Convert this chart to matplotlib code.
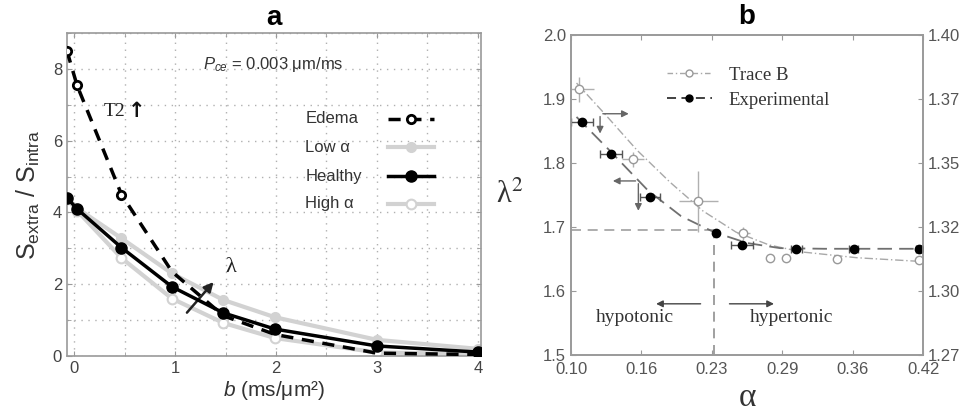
#!/usr/bin/env python3
"""
    Two panels: signal ratio vs b-value (a) and lambda^2 vs alpha (b)
"""

import numpy as np
import matplotlib
matplotlib.use('Agg')
from matplotlib import pyplot as plt
from matplotlib.ticker import MultipleLocator

plt.rcParams['font.family'] = ['Liberation Sans', 'DejaVu Sans']
plt.rcParams['mathtext.fontset'] = 'custom'
plt.rcParams['mathtext.rm'] = 'Liberation Sans'
plt.rcParams['mathtext.it'] = 'Liberation Sans:italic'

# ---- panel a data
b_vals   = [-0.07, 0.03, 0.47, 0.97, 1.48, 1.99, 3.0, 4.0]
edema    = [8.5, 7.54, 4.5, 2.35, 1.12, 0.6, 0.08, 0.04]
low_a    = [4.42, 4.12, 3.28, 2.3, 1.56, 1.08, 0.45, 0.2]
healthy  = [4.41, 4.1, 3.02, 1.93, 1.2, 0.75, 0.28, 0.11]
high_a   = [4.38, 4.05, 2.73, 1.6, 0.92, 0.5, 0.1, 0.05]

# ---- panel b data
trace_x    = [0.1076, 0.1567, 0.2157, 0.2567, 0.281, 0.2955, 0.3415, 0.4167]
trace_y    = [1.915, 1.806, 1.740, 1.690, 1.652, 1.652, 1.650, 1.649]
trace_xerr = [0.013, 0.010, 0.018, 0.006, 0.0, 0.0, 0.0, 0.0]
trace_yerr = [0.019, 0.012, 0.048, 0.010, 0.0, 0.0, 0.0, 0.0]
trace_fit_x = [0.105, 0.13, 0.16, 0.19, 0.22, 0.25, 0.28, 0.31, 0.36, 0.42]
trace_fit_y = [1.925, 1.878, 1.82, 1.77, 1.725, 1.692, 1.672, 1.661, 1.652, 1.646]

exp_x    = [0.1097, 0.136, 0.172, 0.2318, 0.2555, 0.3045, 0.357, 0.4167]
exp_y    = [1.864, 1.8145, 1.747, 1.691, 1.672, 1.666, 1.666, 1.666]
exp_xerr = [0.010, 0.010, 0.009, 0.0, 0.010, 0.005, 0.004, 0.003]
exp_fit_x = [0.105, 0.136, 0.17, 0.20, 0.23, 0.26, 0.29, 0.33, 0.42]
exp_fit_y = [1.872, 1.818, 1.757, 1.717, 1.692, 1.675, 1.667, 1.666, 1.666]

b_xticks  = ['0.10', '0.16', '0.23', '0.29', '0.36', '0.42']
b_yticks  = ['1.5', '1.6', '1.7', '1.8', '1.9', '2.0']
b_y2ticks = ['1.27', '1.30', '1.32', '1.35', '1.37', '1.40']
iso_alpha, iso_lambda = 0.23, 1.695

LGRAY = '#d2d2d2'
SPINE = '#9a9a9a'
TICKC = '#444444'
SERIF = ['Liberation Serif', 'DejaVu Serif']

fig = plt.figure(figsize=(9.69, 4.16), dpi=100)

# ================= panel a
ax = fig.add_axes([0.0691, 0.1442, 0.4273, 0.7765])
style_low = dict(color=LGRAY, lw=3, ms=7, mfc=LGRAY, mec=LGRAY)
style_high = dict(color=LGRAY, lw=3, ms=7, mfc='white', mec=LGRAY, mew=1.5)
style_edema = dict(color='black', lw=2.5, ls=(0, (3.5, 2.5)), ms=6,
                   mfc='white', mec='black', mew=2)
style_healthy = dict(color='black', lw=2.5, ms=8, mfc='black', mec='black')

ax.plot(b_vals, low_a, marker='o', zorder=2, **style_low)
ax.plot(b_vals, high_a, marker='o', zorder=2, **style_high)
ax.plot(b_vals, edema, marker='o', markevery=[0, 1, 2], zorder=3,
        **style_edema)
ax.plot(b_vals, healthy, marker='o', zorder=4, **style_healthy)

ax.set_xlim(-0.07, 4.03)
ax.set_ylim(0, 9)
ax.xaxis.set_major_locator(MultipleLocator(1))
ax.xaxis.set_minor_locator(MultipleLocator(0.5))
ax.yaxis.set_major_locator(MultipleLocator(2))
ax.yaxis.set_minor_locator(MultipleLocator(1))
ax.grid(which='both', ls=(0, (1, 4)), color='#b0b0b0', lw=1)
ax.tick_params(which='both', direction='in', top=True, right=True,
               colors=SPINE, labelcolor=TICKC, labelsize=12)
ax.tick_params(which='minor', length=3)
for s in ax.spines.values():
    s.set_color(SPINE)
    s.set_linewidth(1.2)

ax.set_xlabel('$b$ (ms/μm²)', fontsize=15, color='#333333', labelpad=2)
ax.set_ylabel(r'S$_{\rm extra}$ / S$_{\rm intra}$', fontsize=18,
              color='#333333', labelpad=8)
ax.set_title('a', fontsize=20, fontweight='bold', pad=6)

# legend of panel a: labels left aligned, samples on the right
leg_names = ['Edema', 'Low α', 'Healthy', 'High α']
leg_styles = [style_edema, style_low, style_healthy, style_high]
leg_rows = [0.734, 0.647, 0.557, 0.471]
for name, st, yy in zip(leg_names, leg_styles, leg_rows):
    ax.text(0.576, yy, name, transform=ax.transAxes, fontsize=12,
            ha='left', va='center', color='#333333')
    ax.plot([0.775, 0.8305, 0.886], [yy, yy, yy], transform=ax.transAxes,
            marker='o', markevery=[1], **st)

ax.text(1.97, 8.13, '$P_{ce}$ = 0.003 μm/ms', fontsize=12,
        ha='center', va='center', color='#333333')
ax.text(0.29, 6.8, 'T2', fontsize=14, family=SERIF,
        ha='left', va='center', color='#222222')
ax.text(0.53, 6.83, '↑', fontsize=15, family=['DejaVu Sans'],
        fontweight='bold', ha='left', va='center', color='#111111')
ax.annotate('', xy=(1.40, 2.12), xytext=(1.10, 1.15),
            arrowprops=dict(arrowstyle='-|>', lw=1.8, color='#222222',
                            mutation_scale=14))
ax.text(1.55, 2.46, 'λ', fontsize=16, family=SERIF,
        ha='center', va='center', color='#222222')

# ================= panel b
bx = fig.add_axes([0.5893, 0.1466, 0.3633, 0.7692])

bx.plot([0.10, iso_alpha], [iso_lambda, iso_lambda], color='#a0a0a0',
        lw=1.2, ls=(0, (6, 4)), zorder=1)
bx.plot([iso_alpha, iso_alpha], [1.5, iso_lambda], color='#909090',
        lw=1.2, ls=(0, (6, 4)), zorder=1)

bx.plot(trace_fit_x, trace_fit_y, color='#a8a8a8', lw=1,
        ls=(0, (6, 2, 1, 2)), zorder=2)
bx.plot(exp_fit_x, exp_fit_y, color='#707070', lw=1.3,
        ls=(0, (8, 4)), zorder=2)

bx.errorbar(trace_x, trace_y, xerr=trace_xerr, yerr=trace_yerr, fmt='none',
            ecolor='#b0b0b0', elinewidth=1, capsize=0, zorder=3)
bx.errorbar(exp_x, exp_y, xerr=exp_xerr, fmt='none', ecolor='#555555',
            elinewidth=1, capsize=3, zorder=3)
bx.plot(trace_x, trace_y, ls='none', marker='o', ms=6, mfc='white',
        mec='#999999', mew=1, zorder=4)
bx.plot(exp_x, exp_y, ls='none', marker='o', ms=6, mfc='black',
        mec='black', zorder=5)

# legend proxies
h_trace, = bx.plot([], [], color='#a8a8a8', lw=1, ls=(0, (4, 2, 1, 2)),
                   marker='o', ms=5, mfc='white', mec='#999999')
h_exp, = bx.plot([], [], color='#333333', lw=1.3, ls=(0, (5, 3)),
                 marker='o', ms=5, mfc='black', mec='black')
bx.legend([h_trace, h_exp], ['Trace B', 'Experimental'], loc='upper left',
          bbox_to_anchor=(0.245, 0.93), frameon=False,
          prop={'family': SERIF, 'size': 13.5}, handlelength=2.4,
          handletextpad=0.9, labelspacing=0.42, borderpad=0,
          labelcolor='#333333')

# corner arrows
arrow_kw = dict(arrowstyle='-|>', lw=1, color='#666666', mutation_scale=10)
for cx, cy, hx, vy in [(0.1264, 1.877, 0.155, 1.8417),
                       (0.1612, 1.772, 0.1355, 1.721)]:
    bx.annotate('', xy=(hx, cy), xytext=(cx, cy), arrowprops=arrow_kw)
    bx.annotate('', xy=(cx, vy), xytext=(cx, cy), arrowprops=arrow_kw)
bx.annotate('', xy=(0.1748, 1.580), xytext=(0.2203, 1.580),
            arrowprops=dict(arrowstyle='-|>', lw=1, color='#444444',
                            mutation_scale=10))
bx.annotate('', xy=(0.287, 1.580), xytext=(0.2415, 1.580),
            arrowprops=dict(arrowstyle='-|>', lw=1, color='#444444',
                            mutation_scale=10))
bx.text(0.158, 1.558, 'hypotonic', family=SERIF, fontsize=14,
        ha='center', va='center', color='#333333')
bx.text(0.3006, 1.558, 'hypertonic', family=SERIF, fontsize=14,
        ha='center', va='center', color='#333333')

bx.set_xlim(0.10, 0.42)
bx.set_ylim(1.5, 2.0)
bx.set_xticks(np.linspace(0.10, 0.42, 6))
bx.set_xticklabels(b_xticks)
bx.set_yticks(np.linspace(1.5, 2.0, 6))
bx.set_yticklabels(b_yticks)
bx.tick_params(direction='in', top=True, colors=SPINE, labelcolor='#555555',
               labelsize=12)
bx.tick_params(axis='x', pad=5)
for s in bx.spines.values():
    s.set_color(SPINE)
    s.set_linewidth(1.2)

b2 = bx.twinx()
b2.set_ylim(1.27, 1.40)
b2.set_yticks(np.linspace(1.27, 1.40, 6))
b2.set_yticklabels(b_y2ticks)
b2.tick_params(direction='in', colors=SPINE, labelcolor='#555555',
               labelsize=12)
for s in b2.spines.values():
    s.set_color(SPINE)
    s.set_linewidth(1.2)

bx.set_xlabel('α', family=SERIF, fontsize=24, color='#333333', labelpad=4)
bx.set_ylabel('λ$^{2}$', family=SERIF, math_fontfamily='stix', fontsize=22,
              color='#333333', rotation=0, labelpad=24, va='center')
bx.set_title('b', fontsize=20, fontweight='bold', pad=8)

fig.savefig('out.png', dpi=100)
